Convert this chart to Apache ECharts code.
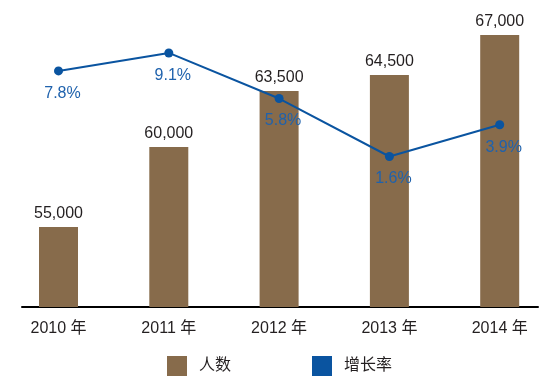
<!DOCTYPE html>
<html>
<head>
<meta charset="utf-8">
<script src="https://cdn.jsdelivr.net/npm/echarts@6/dist/echarts.min.js"></script>
<style>
html,body{margin:0;padding:0;background:#fff;}
#c{width:560px;height:377px;}
</style>
</head>
<body>
<div id="c"></div>
<script>
var categories = ['2010 年', '2011 年', '2012 年', '2013 年', '2014 年'];
var people = [55000, 60000, 63500, 64500, 67000];
var growth = [7.8, 9.1, 5.8, 1.6, 3.9];
var seriesNames = ['人数', '增长率'];

var chart = echarts.init(document.getElementById('c'), null, {renderer: 'canvas'});
var font = 'Arial, "Liberation Sans", "Noto Sans CJK SC", sans-serif';
chart.setOption({
  animation: false,
  backgroundColor: '#ffffff',
  textStyle: {fontFamily: font},
  grid: [
    {left: 3.35, right: 5.15, top: 35, bottom: 70},
    {left: 22, right: 22, top: 35, bottom: 70}
  ],
  legend: {
    left: 167, top: 356, padding: 0,
    itemWidth: 20, itemHeight: 20, itemGap: 81,
    icon: 'rect',
    textStyle: {fontSize: 16, color: '#231f20', fontFamily: font, padding: [0, 0, 0, 7]},
    data: seriesNames
  },
  xAxis: [
    {
      type: 'category', gridIndex: 0, data: categories,
      axisLine: {show: false}, axisTick: {show: false},
      axisLabel: {fontSize: 16, color: '#231f20', margin: 14, fontFamily: font}
    },
    {
      type: 'category', gridIndex: 1, data: categories,
      axisLine: {show: true, lineStyle: {color: '#000', width: 2}},
      axisTick: {show: false}, axisLabel: {show: false}
    }
  ],
  yAxis: [
    {type: 'value', gridIndex: 0, min: 50000, max: 67000, show: false, splitLine: {show: false}},
    {type: 'value', gridIndex: 0, min: -9.3, max: 10.4, show: false, splitLine: {show: false}},
    {type: 'value', gridIndex: 1, show: false, splitLine: {show: false}}
  ],
  series: [
    {
      name: seriesNames[0], type: 'bar', xAxisIndex: 0, yAxisIndex: 0,
      data: people, barWidth: 39,
      itemStyle: {color: '#876b4b'},
      label: {
        show: true, position: 'top', distance: 5,
        fontSize: 16, color: '#231f20', fontFamily: font,
        formatter: function (p) { return p.value.toLocaleString('en-US'); }
      }
    },
    {
      name: seriesNames[1], type: 'line', xAxisIndex: 0, yAxisIndex: 1,
      data: growth, symbol: 'circle', symbolSize: 9,
      lineStyle: {color: '#0a54a0', width: 2},
      itemStyle: {color: '#0a54a0'},
      label: {
        show: true, position: 'bottom', distance: 10, offset: [4, 0],
        fontSize: 16, color: '#1f62ad', fontFamily: font,
        formatter: function (p) { return p.value.toFixed(1) + '%'; }
      },
      z: 5
    }
  ]
});
</script>
</body>
</html>
